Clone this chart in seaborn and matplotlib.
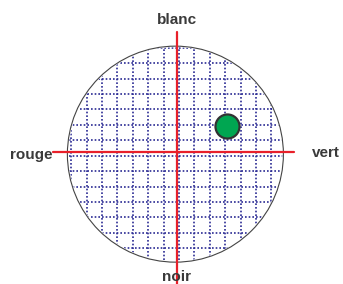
import numpy as np
import pandas as pd
import matplotlib
matplotlib.use("Agg")
import matplotlib.pyplot as plt
import matplotlib.patches as mpatches
import seaborn as sns

# axis directions (label, x, y)
directions = ['blanc', 'noir', 'rouge', 'vert']
dir_x = [0.0, 0.0, -1.152, 1.25]
dir_y = [1.22, -1.16, -0.03, -0.01]

# red cross arms
cross_h_x = [-1.145, 1.086]
cross_v_y = [1.111, -1.25]

# grid positions (data units, circle radius = 1)
grid_x = [-1.120, -0.978, -0.835, -0.692, -0.550, -0.407, -0.264, -0.122,
          0.021, 0.164, 0.306, 0.449, 0.591, 0.734, 0.877]
grid_y = [-0.890, -0.748, -0.605, -0.462, -0.320, -0.177, -0.034,
          0.108, 0.251, 0.394, 0.536, 0.679, 0.822, 0.964]

# the point
point = pd.DataFrame({'x': [0.463], 'y': [0.24]})

sns.set_style('white')
plt.rcParams['font.family'] = ['Liberation Sans', 'DejaVu Sans']

fig = plt.figure(figsize=(3.43, 2.84), dpi=100)
ax = fig.add_axes([0, 0, 1, 1])
ax.set_xlim(-1.636, 1.540)
ax.set_ylim(-1.222, 1.407)
ax.set_aspect('equal')
ax.axis('off')

circle = mpatches.Circle((-0.012, -0.02), 1.0, facecolor='white',
                         edgecolor='#444444', linewidth=0.8, zorder=1)
ax.add_patch(circle)

clip = mpatches.Circle((-0.012, -0.02), 0.99, transform=ax.transData)
for gx in grid_x:
    ln, = ax.plot([gx, gx], [-1.2, 1.2], color='#2b2b94', lw=1.2,
                  linestyle=(0, (1.0, 1.2)), zorder=2)
    ln.set_clip_path(clip)
for gy in grid_y:
    ln, = ax.plot([-1.2, 1.2], [gy, gy], color='#2b2b94', lw=1.2,
                  linestyle=(0, (1.0, 1.2)), zorder=2)
    ln.set_clip_path(clip)

ax.plot(cross_h_x, [0, 0], color='#e8202a', lw=1.6, zorder=3)
ax.plot([0, 0], cross_v_y, color='#e8202a', lw=1.6, zorder=3)

sns.scatterplot(data=point, x='x', y='y', s=300, color='#00a651',
                edgecolor='#333333', linewidth=1.6, zorder=4, ax=ax, legend=False)

aligns = {'blanc': ('center', 'center'), 'noir': ('center', 'center'),
          'rouge': ('right', 'center'), 'vert': ('left', 'center')}
for name, x, y in zip(directions, dir_x, dir_y):
    ha, va = aligns[name]
    ax.text(x, y, name, ha=ha, va=va, fontsize=11, fontweight='bold',
            color='#3a3a3a', zorder=5)

fig.savefig('out.png', dpi=100)
